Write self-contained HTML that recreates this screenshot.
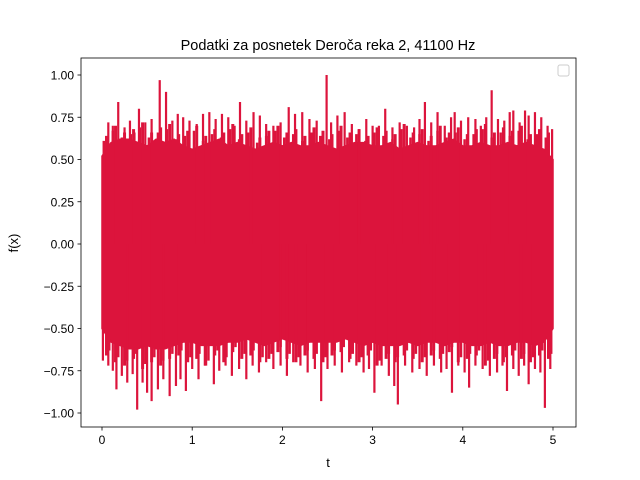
<!DOCTYPE html>
<html><head><meta charset="utf-8"><style>
body{margin:0;background:#fff;}
svg{display:block;font-family:"Liberation Sans","DejaVu Sans",sans-serif;}
</style></head><body>
<svg id="chart" width="640" height="480" viewBox="0 0 640 480">
<rect width="640" height="480" fill="#fff"/>
<text x="328" y="50" font-size="14.5" text-anchor="middle">Podatki za posnetek Deroča reka 2, 41100 Hz</text>
<g id="plot"></g>
<g id="axes"></g>
<rect x="558" y="65" width="11" height="11" rx="2" fill="#fff" stroke="#ccc"/>
<text x="328" y="467" font-size="13" text-anchor="middle">t</text>
<text x="18" y="243" font-size="13" text-anchor="middle" transform="rotate(-90 18 243)">f(x)</text>
</svg>
<script>
const envTop=[0.52,0.6,0.62,0.62,0.6,0.58,0.62,0.6,0.62,0.58,0.56,0.58,0.6,0.62,0.58,0.6,0.58,0.56,0.58,0.6,0.58,0.6,0.58,0.58,0.6,0.58,0.56,0.58,0.6,0.6,0.58,0.58,0.6,0.56,0.58,0.6,0.58,0.58,0.6,0.62,0.58,0.58,0.6,0.58,0.58,0.6,0.58,0.6,0.58,0.56,0.5];
const envBot=[-0.5,-0.58,-0.6,-0.62,-0.62,-0.6,-0.62,-0.62,-0.6,-0.58,-0.58,-0.6,-0.6,-0.6,-0.58,-0.58,-0.56,-0.58,-0.6,-0.58,-0.56,-0.58,-0.6,-0.58,-0.58,-0.58,-0.58,-0.56,-0.58,-0.6,-0.58,-0.6,-0.6,-0.6,-0.58,-0.6,-0.58,-0.58,-0.6,-0.58,-0.58,-0.6,-0.6,-0.58,-0.6,-0.6,-0.58,-0.58,-0.6,-0.58,-0.5];
const midUpV=[0.64,0.70,0.66,0.68,0.72,0.66,0.69,0.71,0.65,0.67,0.70,0.64,0.68,0.66,0.71,0.65,0.69,0.63,0.67,0.70,0.66,0.68,0.64,0.69,0.67,0.65,0.70,0.66,0.68,0.64,0.69,0.67,0.65,0.71,0.66,0.68,0.64,0.70,0.66,0.69,0.65,0.68,0.71,0.66,0.69,0.67,0.70,0.65,0.68,0.66];
const midDnV=[-0.66,-0.70,-0.72,-0.68,-0.74,-0.70,-0.72,-0.68,-0.66,-0.70,-0.68,-0.72,-0.66,-0.70,-0.64,-0.68,-0.66,-0.70,-0.68,-0.64,-0.68,-0.70,-0.66,-0.68,-0.70,-0.66,-0.64,-0.68,-0.70,-0.66,-0.72,-0.68,-0.70,-0.66,-0.68,-0.70,-0.66,-0.68,-0.64,-0.70,-0.68,-0.66,-0.72,-0.68,-0.70,-0.66,-0.68,-0.70,-0.66,-0.68];
const spikeUpT=[0.07,0.12,0.18,0.25,0.31,0.36,0.41,0.48,0.55,0.64,0.71,0.78,0.84,0.90,0.97,1.05,1.12,1.19,1.26,1.33,1.40,1.47,1.53,1.60,1.68,1.75,1.82,1.90,1.98,2.07,2.14,2.22,2.30,2.38,2.49,2.54,2.61,2.69,2.77,2.85,2.93,3.00,3.07,3.14,3.22,3.30,3.38,3.46,3.52,3.58,3.65,3.72,3.80,3.87,3.91,3.98,4.06,4.14,4.20,4.26,4.32,4.39,4.46,4.52,4.56,4.63,4.69,4.73,4.80,4.87,4.94,4.99];
const spikeUpV=[0.72,0.70,0.84,0.69,0.73,0.66,0.80,0.72,0.74,0.97,0.90,0.73,0.77,0.75,0.73,0.71,0.77,0.78,0.74,0.77,0.75,0.70,0.84,0.73,0.78,0.76,0.71,0.70,0.72,0.81,0.77,0.78,0.74,0.73,1.00,0.72,0.76,0.78,0.71,0.68,0.74,0.70,0.70,0.80,0.69,0.72,0.70,0.69,0.74,0.84,0.72,0.78,0.70,0.75,0.78,0.73,0.75,0.74,0.70,0.75,0.91,0.74,0.73,0.78,0.79,0.72,0.79,0.76,0.78,0.75,0.70,0.68];
const spikeDnT=[0.01,0.07,0.12,0.16,0.22,0.28,0.34,0.39,0.45,0.50,0.55,0.62,0.68,0.75,0.82,0.87,0.93,1.00,1.07,1.14,1.24,1.30,1.37,1.44,1.52,1.60,1.67,1.74,1.82,1.90,1.98,2.05,2.12,2.20,2.28,2.36,2.43,2.50,2.58,2.66,2.74,2.82,2.90,2.96,3.02,3.10,3.18,3.24,3.28,3.36,3.44,3.52,3.60,3.68,3.76,3.82,3.88,3.95,4.02,4.07,4.14,4.22,4.30,4.38,4.44,4.49,4.56,4.62,4.68,4.73,4.80,4.86,4.91,4.97];
const spikeDnV=[-0.69,-0.72,-0.75,-0.86,-0.78,-0.82,-0.77,-0.98,-0.82,-0.88,-0.93,-0.86,-0.80,-0.90,-0.84,-0.80,-0.87,-0.74,-0.80,-0.72,-0.83,-0.75,-0.72,-0.78,-0.74,-0.80,-0.72,-0.76,-0.70,-0.74,-0.72,-0.78,-0.70,-0.72,-0.76,-0.74,-0.93,-0.74,-0.72,-0.76,-0.70,-0.72,-0.76,-0.74,-0.88,-0.72,-0.78,-0.84,-0.95,-0.72,-0.76,-0.74,-0.78,-0.72,-0.76,-0.74,-0.88,-0.72,-0.76,-0.85,-0.72,-0.74,-0.78,-0.76,-0.72,-0.87,-0.74,-0.78,-0.72,-0.83,-0.74,-0.76,-0.97,-0.74];
const xTicks=[0,1,2,3,4,5];
const yTicks=[1.00,0.75,0.50,0.25,0.00,-0.25,-0.50,-0.75,-1.00];
const tMax=5.0;

const NS="http://www.w3.org/2000/svg";
const X0=81,X1=576,Y0=58,Y1=427;
const xs=t=>102+t*90.2;
const ys=v=>244-v*169;
const plot=document.getElementById('plot'),axes=document.getElementById('axes');
const C="#dc143c";
let pts=[];
envTop.forEach((v,i)=>pts.push(xs(i*tMax/(envTop.length-1))+","+ys(v)));
for(let i=envBot.length-1;i>=0;i--)pts.push(xs(i*tMax/(envBot.length-1))+","+ys(envBot[i]));
const poly=document.createElementNS(NS,'polygon');
poly.setAttribute('points',pts.join(' '));poly.setAttribute('fill',C);poly.setAttribute('stroke',C);poly.setAttribute('stroke-width','1.5');


plot.appendChild(poly);
function spike(t,v,name,w){
 const l=document.createElementNS(NS,'line');
 l.setAttribute('x1',xs(t));l.setAttribute('x2',xs(t));l.setAttribute('y1',ys(0));l.setAttribute('y2',ys(v));
 l.setAttribute('stroke',C);l.setAttribute('stroke-width',w);
 
 
 plot.appendChild(l);
}
midUpV.forEach((v,i)=>spike(0.05+i*0.1,v,'mid-peak-up','3'));
midDnV.forEach((v,i)=>spike(0.05+i*0.1,v,'mid-peak-down','3'));
midUpV.forEach((v,i)=>spike(0.02+i*0.1,v-0.03,'mid-peak-up','2.5'));
midDnV.forEach((v,i)=>spike(0.08+i*0.1,v+0.03,'mid-peak-down','2.5'));
spikeUpT.forEach((t,i)=>spike(t,spikeUpV[i],'peak-up','2.2'));
spikeDnT.forEach((t,i)=>spike(t,spikeDnV[i],'peak-down','2.2'));
const frame=document.createElementNS(NS,'rect');
frame.setAttribute('x',X0);frame.setAttribute('y',Y0);frame.setAttribute('width',X1-X0);frame.setAttribute('height',Y1-Y0);
frame.setAttribute('fill','none');frame.setAttribute('stroke','#000');frame.setAttribute('stroke-width','0.8');


axes.appendChild(frame);
xTicks.forEach(t=>{
 const l=document.createElementNS(NS,'line');
 l.setAttribute('x1',xs(t));l.setAttribute('x2',xs(t));l.setAttribute('y1',Y1);l.setAttribute('y2',Y1+3.5);l.setAttribute('stroke','#000');l.setAttribute('stroke-width','0.8');
 
 
 axes.appendChild(l);
 const tx=document.createElementNS(NS,'text');
 tx.setAttribute('x',xs(t));tx.setAttribute('y',Y1+17);tx.setAttribute('font-size','12');tx.setAttribute('text-anchor','middle');tx.textContent=t;
 
 
 axes.appendChild(tx);
});
yTicks.forEach(v=>{
 const l=document.createElementNS(NS,'line');
 l.setAttribute('x1',X0-3.5);l.setAttribute('x2',X0);l.setAttribute('y1',ys(v));l.setAttribute('y2',ys(v));l.setAttribute('stroke','#000');l.setAttribute('stroke-width','0.8');
 
 
 axes.appendChild(l);
 const tx=document.createElementNS(NS,'text');
 tx.setAttribute('x',X0-7);tx.setAttribute('y',ys(v)+4.5);tx.setAttribute('font-size','12');tx.setAttribute('text-anchor','end');tx.textContent=(v<0?"\u2212":"")+Math.abs(v).toFixed(2);
 
 
 axes.appendChild(tx);
});
</script>
</body></html>
